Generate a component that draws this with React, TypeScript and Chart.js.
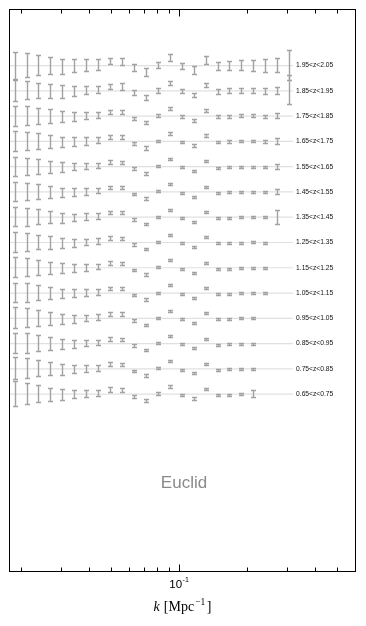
import { useEffect, useRef } from 'react';
import { Chart, registerables } from 'chart.js';
Chart.register(...registerables);

// k bin centres [Mpc^-1]
const kBins = [0.0187, 0.0211, 0.0238, 0.0269, 0.0304, 0.0343, 0.0388, 0.0438, 0.0494, 0.0558, 0.063, 0.0712, 0.0804, 0.0908, 0.1025, 0.1157, 0.1307, 0.1476, 0.1666, 0.1883, 0.2125, 0.2399, 0.2712, 0.3061];

// measured ratio deviation (units of row spacing)
const ratio = [0.0, 0.0, 0.0, -0.02, -0.04, -0.03, 0.0, 0.03, 0.16, 0.15, -0.1, -0.28, 0.0, 0.29, -0.04, -0.19, 0.2, -0.04, -0.02, 0.0, 0.0, -0.02, 0.0, 0.02];

const zLabels = ['1.95<z<2.05', '1.85<z<1.95', '1.75<z<1.85', '1.65<z<1.75', '1.55<z<1.65', '1.45<z<1.55', '1.35<z<1.45', '1.25<z<1.35', '1.15<z<1.25', '1.05<z<1.15', '0.95<z<1.05', '0.85<z<0.95', '0.75<z<0.85', '0.65<z<0.75'];
const rowOffsets = [13, 12, 11, 10, 9, 8, 7, 6, 5, 4, 3, 2, 1, 0];

const err_195_205 = [0.55, 0.48, 0.42, 0.37, 0.32, 0.28, 0.25, 0.23, 0.15, 0.17, 0.17, 0.18, 0.15, 0.15, 0.13, 0.17, 0.17, 0.17, 0.19, 0.22, 0.24, 0.27, 0.3, 0.61];
const err_185_195 = [0.45, 0.38, 0.33, 0.3, 0.28, 0.23, 0.18, 0.16, 0.12, 0.15, 0.12, 0.12, 0.12, 0.1, 0.1, 0.11, 0.1, 0.12, 0.12, 0.12, 0.12, 0.14, 0.16, 0.59];
const err_175_185 = [0.42, 0.4, 0.34, 0.3, 0.25, 0.2, 0.17, 0.13, 0.1, 0.09, 0.08, 0.09, 0.08, 0.07, 0.07, 0.08, 0.07, 0.07, 0.08, 0.08, 0.08, 0.08, 0.11];
const err_165_175 = [0.41, 0.37, 0.33, 0.28, 0.23, 0.2, 0.17, 0.15, 0.1, 0.09, 0.09, 0.08, 0.07, 0.07, 0.07, 0.07, 0.08, 0.07, 0.07, 0.07, 0.07, 0.07, 0.13];
const err_155_165 = [0.39, 0.36, 0.31, 0.25, 0.21, 0.16, 0.15, 0.13, 0.09, 0.09, 0.07, 0.07, 0.06, 0.05, 0.05, 0.04, 0.05, 0.04, 0.04, 0.04, 0.04, 0.04, 0.12];
const err_145_155 = [0.39, 0.36, 0.3, 0.25, 0.21, 0.17, 0.15, 0.13, 0.09, 0.08, 0.07, 0.07, 0.06, 0.05, 0.05, 0.04, 0.05, 0.04, 0.04, 0.04, 0.04, 0.04, 0.12];
const err_135_145 = [0.4, 0.37, 0.31, 0.26, 0.21, 0.17, 0.15, 0.13, 0.09, 0.08, 0.07, 0.07, 0.06, 0.05, 0.05, 0.04, 0.05, 0.04, 0.04, 0.04, 0.04, 0.05, 0.29];
const err_125_135 = [0.4, 0.37, 0.31, 0.26, 0.21, 0.17, 0.15, 0.13, 0.09, 0.08, 0.07, 0.07, 0.06, 0.05, 0.05, 0.04, 0.04, 0.04, 0.03, 0.03, 0.04, 0.05];
const err_115_125 = [0.41, 0.38, 0.31, 0.26, 0.21, 0.17, 0.15, 0.13, 0.09, 0.08, 0.07, 0.07, 0.06, 0.05, 0.05, 0.04, 0.04, 0.04, 0.03, 0.03, 0.04, 0.05];
const err_105_115 = [0.41, 0.38, 0.31, 0.26, 0.21, 0.17, 0.15, 0.13, 0.09, 0.08, 0.07, 0.07, 0.06, 0.05, 0.05, 0.04, 0.04, 0.04, 0.03, 0.03, 0.04, 0.07];
const err_095_105 = [0.44, 0.4, 0.33, 0.27, 0.22, 0.18, 0.15, 0.13, 0.1, 0.09, 0.07, 0.07, 0.06, 0.05, 0.05, 0.05, 0.04, 0.04, 0.04, 0.04, 0.04];
const err_085_095 = [0.41, 0.4, 0.33, 0.27, 0.22, 0.18, 0.15, 0.13, 0.1, 0.09, 0.07, 0.07, 0.06, 0.05, 0.05, 0.05, 0.04, 0.04, 0.04, 0.04, 0.04];
const err_075_085 = [0.45, 0.41, 0.34, 0.28, 0.23, 0.18, 0.16, 0.14, 0.1, 0.09, 0.07, 0.07, 0.06, 0.05, 0.05, 0.06, 0.04, 0.04, 0.04, 0.04, 0.05];
const err_065_075 = [0.53, 0.43, 0.36, 0.28, 0.23, 0.18, 0.16, 0.15, 0.11, 0.11, 0.08, 0.09, 0.07, 0.07, 0.05, 0.07, 0.05, 0.05, 0.04, 0.05, 0.15];

const rowErrors = [err_195_205, err_185_195, err_175_185, err_165_175, err_155_165, err_145_155, err_135_145, err_125_135, err_115_125, err_105_115, err_095_105, err_085_095, err_075_085, err_065_075];

const xMinorTicks = [0.02, 0.03, 0.04, 0.05, 0.06, 0.07, 0.08, 0.09, 0.2, 0.3, 0.4, 0.5];
const xMajorTicks = [0.1];

const kMin = 0.01764;
const kMax = 0.605;
const yMin = -7.04;
const yMax = 15.24;
const refLineEndK = 0.318;
const labelK = 0.3285;

const decor = {
  id: 'decor',
  afterDatasetsDraw(chart: any) {
    const ctx = chart.ctx as CanvasRenderingContext2D;
    const xs = chart.scales.x;
    const ys = chart.scales.y;
    const a = chart.chartArea;
    ctx.save();
    // error bars
    ctx.strokeStyle = '#a2a2a2';
    ctx.lineWidth = 1.4;
    chart.data.datasets.forEach((ds: any) => {
      if (!ds.errorBars) return;
      ds.data.forEach((p: any) => {
        const x = Math.round(xs.getPixelForValue(p.x)) + 0.5;
        const y1 = ys.getPixelForValue(p.y + p.e);
        const y2 = ys.getPixelForValue(p.y - p.e);
        const c1 = Math.round(y1) + 0.5;
        const c2 = Math.max(Math.round(y2) - 0.5, c1 + 2);
        ctx.beginPath();
        ctx.moveTo(x, c1);
        ctx.lineTo(x, c2);
        ctx.moveTo(x - 2.5, c1);
        ctx.lineTo(x + 2.5, c1);
        ctx.moveTo(x - 2.5, c2);
        ctx.lineTo(x + 2.5, c2);
        ctx.stroke();
      });
    });
    // row labels
    ctx.fillStyle = '#111';
    ctx.font = '6.7px "Liberation Sans", Arial, sans-serif';
    ctx.textAlign = 'left';
    ctx.textBaseline = 'middle';
    zLabels.forEach((t, r) => {
      ctx.fillText(t, xs.getPixelForValue(labelK), ys.getPixelForValue(rowOffsets[r]));
    });
    // frame
    ctx.strokeStyle = '#000';
    ctx.lineWidth = 1;
    const L = Math.round(a.left) + 0.5;
    const R = Math.round(a.right) - 0.5;
    const T = Math.round(a.top) + 0.5;
    const B = Math.round(a.bottom) - 0.5;
    ctx.strokeRect(L, T, R - L, B - T);
    // ticks (inward)
    ctx.beginPath();
    const drawTick = (v: number, len: number) => {
      const x = Math.round(xs.getPixelForValue(v)) + 0.5;
      ctx.moveTo(x, B);
      ctx.lineTo(x, B - len);
      ctx.moveTo(x, T);
      ctx.lineTo(x, T + len);
    };
    xMinorTicks.forEach((v) => drawTick(v, 4));
    xMajorTicks.forEach((v) => drawTick(v, 7));
    ctx.stroke();
    // tick label 10^-1
    ctx.fillStyle = '#000';
    ctx.textBaseline = 'alphabetic';
    xMajorTicks.forEach((v) => {
      const x = xs.getPixelForValue(v);
      ctx.font = '11.5px "Liberation Sans", Arial, sans-serif';
      const w1 = ctx.measureText('10').width;
      ctx.font = '7px "Liberation Sans", Arial, sans-serif';
      const w2 = ctx.measureText('-1').width;
      const start = x - (w1 + w2) / 2 - 0.5;
      ctx.font = '11.5px "Liberation Sans", Arial, sans-serif';
      ctx.fillText('10', start, a.bottom + 15.5);
      ctx.font = '7px "Liberation Sans", Arial, sans-serif';
      ctx.fillText('-1', start + w1 + 0.5, a.bottom + 9.5);
    });
    // axis title
    const cx = (a.left + a.right) / 2 + 0;
    const base = a.bottom + 39;
    const f1 = 'italic 14px "Liberation Serif", "DejaVu Serif", serif';
    const f2 = '14px "Liberation Serif", "DejaVu Serif", serif';
    const f3 = '9.5px "Liberation Serif", "DejaVu Serif", serif';
    ctx.font = f1;
    const wk = ctx.measureText('k').width;
    ctx.font = f2;
    const wm = ctx.measureText('[Mpc').width;
    const wb = ctx.measureText(']').width;
    ctx.font = f3;
    const ws = ctx.measureText('\u22121').width;
    const gap = 4;
    const total = wk + gap + wm + 1 + ws + 1.5 + wb;
    let px = cx - total / 2;
    ctx.font = f1;
    ctx.fillText('k', px, base);
    px += wk + gap;
    ctx.font = f2;
    ctx.fillText('[Mpc', px, base);
    px += wm + 1;
    ctx.font = f3;
    ctx.fillText('\u22121', px, base - 6);
    px += ws + 1.5;
    ctx.font = f2;
    ctx.fillText(']', px, base);
    // Euclid
    ctx.fillStyle = '#8a8a8a';
    ctx.font = '17px "Liberation Sans", Arial, sans-serif';
    ctx.textAlign = 'center';
    ctx.fillText('Euclid', a.left + 175, a.top + 478.5);
    ctx.restore();
  },
};

export default function App() {
  const ref = useRef<HTMLCanvasElement>(null);
  useEffect(() => {
    document.body.style.margin = '0';
    const datasets: any[] = [];
    rowOffsets.forEach((off) => {
      datasets.push({
        type: 'line',
        data: [
          { x: kMin, y: off },
          { x: refLineEndK, y: off },
        ],
        borderColor: '#e0e0e0',
        borderWidth: 1.2,
        pointRadius: 0,
        fill: false,
      });
    });
    rowErrors.forEach((errs, r) => {
      datasets.push({
        type: 'scatter',
        data: errs.map((e, i) => ({ x: kBins[i], y: rowOffsets[r] + ratio[i], e })),
        pointRadius: 0,
        errorBars: true,
      });
    });
    const chart = new Chart(ref.current as HTMLCanvasElement, {
      type: 'scatter',
      data: { datasets },
      options: {
        responsive: false,
        animation: false,
        layout: { padding: { left: 9, right: 10, top: 9, bottom: 54 } },
        plugins: { legend: { display: false }, tooltip: { enabled: false } },
        scales: {
          x: { type: 'logarithmic', min: kMin, max: kMax, display: false },
          y: { type: 'linear', min: yMin, max: yMax, display: false },
        },
      },
      plugins: [decor],
    } as any);
    return () => chart.destroy();
  }, []);
  return (
    <div style={{ width: 366, height: 626 }}>
      <canvas ref={ref} width={366} height={626} style={{ display: 'block' }} />
    </div>
  );
}
